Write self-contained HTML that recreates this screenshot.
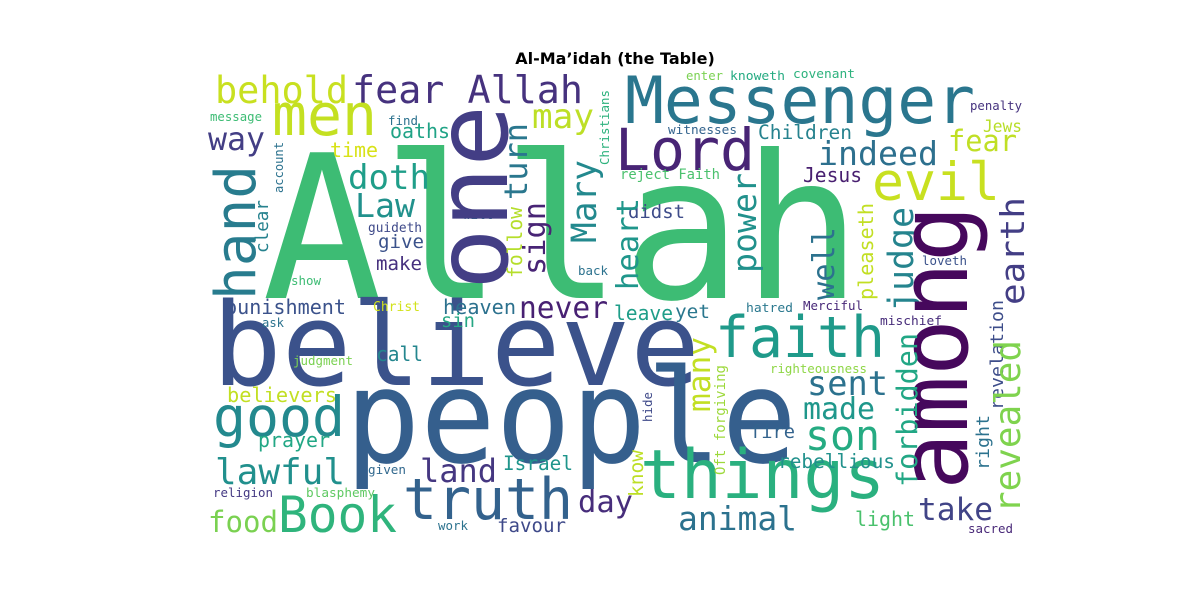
<!DOCTYPE html>
<html><head><meta charset="utf-8"><style>
html,body{margin:0;padding:0;background:#fff;}
svg{display:block;}
text{font-family:"DejaVu Sans Mono","Liberation Mono",monospace;}
</style></head><body>
<svg width="1200" height="600" viewBox="0 0 1200 600">
<rect width="1200" height="600" fill="#fff"/>
<text x="615" y="64" text-anchor="middle" style="font-family:'DejaVu Sans','Liberation Sans',sans-serif;font-weight:bold;font-size:16px" fill="#000">Al-Ma’idah (the Table)</text>
<g lengthAdjust="spacingAndGlyphs">
<text x="262" y="298" font-size="200" textLength="600" lengthAdjust="spacingAndGlyphs" fill="#3dbc74">Allah</text>
<text x="212" y="385" font-size="115" textLength="488" lengthAdjust="spacingAndGlyphs" fill="#3b528b">believe</text>
<text x="345" y="462" font-size="130" textLength="452" lengthAdjust="spacingAndGlyphs" fill="#355f8d">people</text>
<text x="215" y="103" font-size="37" textLength="133" lengthAdjust="spacingAndGlyphs" fill="#c8e020">behold</text>
<text x="352" y="103" font-size="38" textLength="231" lengthAdjust="spacingAndGlyphs" fill="#46327e">fear Allah</text>
<text x="272" y="135" font-size="58" textLength="105" lengthAdjust="spacingAndGlyphs" fill="#c4e021">men</text>
<text x="625" y="123" font-size="65" textLength="350" lengthAdjust="spacingAndGlyphs" fill="#2a768e">Messenger</text>
<text x="615" y="170" font-size="58" textLength="140" lengthAdjust="spacingAndGlyphs" fill="#482475">Lord</text>
<text x="532" y="128" font-size="34" textLength="62" lengthAdjust="spacingAndGlyphs" fill="#bddf26">may</text>
<text x="208" y="150" font-size="32" textLength="57" lengthAdjust="spacingAndGlyphs" fill="#433e85">way</text>
<text x="210" y="121" font-size="12.5" textLength="52" lengthAdjust="spacingAndGlyphs" fill="#3dbc74">message</text>
<text x="388" y="125" font-size="12.5" textLength="30" lengthAdjust="spacingAndGlyphs" fill="#2c728e">find</text>
<text x="390" y="138" font-size="20" textLength="60" lengthAdjust="spacingAndGlyphs" fill="#20a386">oaths</text>
<text x="330" y="157" font-size="20" textLength="48" lengthAdjust="spacingAndGlyphs" fill="#d8e219">time</text>
<text x="348" y="189" font-size="34" textLength="82" lengthAdjust="spacingAndGlyphs" fill="#1f9e89">doth</text>
<text x="355" y="217" font-size="33" textLength="60" lengthAdjust="spacingAndGlyphs" fill="#21918c">Law</text>
<text x="368" y="232" font-size="13" textLength="54" lengthAdjust="spacingAndGlyphs" fill="#3e4989">guideth</text>
<text x="378" y="248" font-size="19" textLength="46" lengthAdjust="spacingAndGlyphs" fill="#3b528b">give</text>
<text x="376" y="270" font-size="19" textLength="46" lengthAdjust="spacingAndGlyphs" fill="#46307e">make</text>
<text x="291" y="285" font-size="12" textLength="30" lengthAdjust="spacingAndGlyphs" fill="#3dbc74">show</text>
<text x="463" y="219" font-size="12.5" textLength="30" lengthAdjust="spacingAndGlyphs" fill="#2a788e">wilt</text>
<text x="225" y="314" font-size="20" textLength="121" lengthAdjust="spacingAndGlyphs" fill="#3b528b">punishment</text>
<text x="262" y="327" font-size="12" textLength="22" lengthAdjust="spacingAndGlyphs" fill="#2c728e">ask</text>
<text x="373" y="311" font-size="13" textLength="47" lengthAdjust="spacingAndGlyphs" fill="#d2e21b">Christ</text>
<text x="443" y="314" font-size="20" textLength="73" lengthAdjust="spacingAndGlyphs" fill="#2c718e">heaven</text>
<text x="441" y="327" font-size="19" textLength="34" lengthAdjust="spacingAndGlyphs" fill="#26a784">sin</text>
<text x="519" y="318" font-size="30" textLength="89" lengthAdjust="spacingAndGlyphs" fill="#482173">never</text>
<text x="376" y="361" font-size="20" textLength="47" lengthAdjust="spacingAndGlyphs" fill="#24868e">call</text>
<text x="293" y="365" font-size="12.5" textLength="60" lengthAdjust="spacingAndGlyphs" fill="#7ad151">judgment</text>
<text x="227" y="402" font-size="20" textLength="110" lengthAdjust="spacingAndGlyphs" fill="#c2df23">believers</text>
<text x="213" y="436" font-size="55" textLength="132" lengthAdjust="spacingAndGlyphs" fill="#23898e">good</text>
<text x="258" y="447" font-size="20" textLength="72" lengthAdjust="spacingAndGlyphs" fill="#22a785">prayer</text>
<text x="215" y="484" font-size="36" textLength="130" lengthAdjust="spacingAndGlyphs" fill="#21908d">lawful</text>
<text x="420" y="482" font-size="32" textLength="77" lengthAdjust="spacingAndGlyphs" fill="#453781">land</text>
<text x="503" y="470" font-size="19.5" textLength="70" lengthAdjust="spacingAndGlyphs" fill="#1f958b">Israel</text>
<text x="368" y="474" font-size="12.5" textLength="38" lengthAdjust="spacingAndGlyphs" fill="#31688e">given</text>
<text x="213" y="497" font-size="12.5" textLength="60" lengthAdjust="spacingAndGlyphs" fill="#443983">religion</text>
<text x="306" y="497" font-size="12.5" textLength="69" lengthAdjust="spacingAndGlyphs" fill="#5ec962">blasphemy</text>
<text x="208" y="532" font-size="29" textLength="70" lengthAdjust="spacingAndGlyphs" fill="#7ad151">food</text>
<text x="278" y="532" font-size="50" textLength="119" lengthAdjust="spacingAndGlyphs" fill="#2fb47c">Book</text>
<text x="403" y="519" font-size="57" textLength="170" lengthAdjust="spacingAndGlyphs" fill="#33628d">truth</text>
<text x="438" y="530" font-size="12.5" textLength="30" lengthAdjust="spacingAndGlyphs" fill="#2c728e">work</text>
<text x="497" y="532" font-size="19" textLength="69" lengthAdjust="spacingAndGlyphs" fill="#3e4989">favour</text>
<text x="578" y="512" font-size="30" textLength="55" lengthAdjust="spacingAndGlyphs" fill="#472d7b">day</text>
<text x="640" y="498" font-size="68" textLength="245" lengthAdjust="spacingAndGlyphs" fill="#2ab07f">things</text>
<text x="678" y="530" font-size="33" textLength="119" lengthAdjust="spacingAndGlyphs" fill="#2c728e">animal</text>
<text x="855" y="526" font-size="20" textLength="60" lengthAdjust="spacingAndGlyphs" fill="#4ac16d">light</text>
<text x="918" y="520" font-size="31" textLength="75" lengthAdjust="spacingAndGlyphs" fill="#414487">take</text>
<text x="968" y="533" font-size="12.5" textLength="45" lengthAdjust="spacingAndGlyphs" fill="#482878">sacred</text>
<text x="778" y="468" font-size="19.5" textLength="117" lengthAdjust="spacingAndGlyphs" fill="#21918c">rebellious</text>
<text x="750" y="438" font-size="19" textLength="45" lengthAdjust="spacingAndGlyphs" fill="#33638d">fire</text>
<text x="803" y="419" font-size="30" textLength="72" lengthAdjust="spacingAndGlyphs" fill="#1f978b">made</text>
<text x="805" y="450" font-size="42" textLength="75" lengthAdjust="spacingAndGlyphs" fill="#25ab82">son</text>
<text x="807" y="395" font-size="34" textLength="81" lengthAdjust="spacingAndGlyphs" fill="#2c728e">sent</text>
<text x="715" y="357" font-size="57" textLength="170" lengthAdjust="spacingAndGlyphs" fill="#1f9a8a">faith</text>
<text x="770" y="373" font-size="12.5" textLength="97" lengthAdjust="spacingAndGlyphs" fill="#8ed645">righteousness</text>
<text x="614" y="320" font-size="20" textLength="59" lengthAdjust="spacingAndGlyphs" fill="#1f9e89">leave</text>
<text x="675" y="318" font-size="19" textLength="35" lengthAdjust="spacingAndGlyphs" fill="#2a778e">yet</text>
<text x="746" y="312" font-size="12.5" textLength="47" lengthAdjust="spacingAndGlyphs" fill="#2a788e">hatred</text>
<text x="803" y="310" font-size="12.5" textLength="60" lengthAdjust="spacingAndGlyphs" fill="#482878">Merciful</text>
<text x="880" y="325" font-size="12.5" textLength="62" lengthAdjust="spacingAndGlyphs" fill="#472c7a">mischief</text>
<text x="803" y="182" font-size="20" textLength="59" lengthAdjust="spacingAndGlyphs" fill="#481f70">Jesus</text>
<text x="818" y="165" font-size="33" textLength="120" lengthAdjust="spacingAndGlyphs" fill="#2d708e">indeed</text>
<text x="758" y="139" font-size="19.6" textLength="94" lengthAdjust="spacingAndGlyphs" fill="#26828e">Children</text>
<text x="668" y="134" font-size="12.5" textLength="69" lengthAdjust="spacingAndGlyphs" fill="#33638d">witnesses</text>
<text x="686" y="80" font-size="12" textLength="37" lengthAdjust="spacingAndGlyphs" fill="#7ad151">enter</text>
<text x="730" y="80" font-size="12.5" textLength="55" lengthAdjust="spacingAndGlyphs" fill="#25ab82">knoweth</text>
<text x="793" y="78" font-size="12.5" textLength="62" lengthAdjust="spacingAndGlyphs" fill="#2db27d">covenant</text>
<text x="970" y="110" font-size="12.5" textLength="52" lengthAdjust="spacingAndGlyphs" fill="#46337f">penalty</text>
<text x="983" y="132" font-size="16.5" textLength="39" lengthAdjust="spacingAndGlyphs" fill="#b8de29">Jews</text>
<text x="948" y="151" font-size="29" textLength="69" lengthAdjust="spacingAndGlyphs" fill="#c0df25">fear</text>
<text x="872" y="200" font-size="53" textLength="128" lengthAdjust="spacingAndGlyphs" fill="#c8e020">evil</text>
<text x="620" y="179" font-size="14" textLength="100" lengthAdjust="spacingAndGlyphs" fill="#4ac16d">reject Faith</text>
<text x="628" y="218" font-size="19" textLength="57" lengthAdjust="spacingAndGlyphs" fill="#3e4c8a">didst</text>
<text x="922" y="265" font-size="12.5" textLength="45" lengthAdjust="spacingAndGlyphs" fill="#3b528b">loveth</text>
<text x="578" y="275" font-size="12" textLength="30" lengthAdjust="spacingAndGlyphs" fill="#2c728e">back</text>

<text transform="translate(507,290) rotate(-90)" font-size="100" textLength="185" lengthAdjust="spacingAndGlyphs" fill="#433e85">one</text>
<text transform="translate(255,300) rotate(-90)" font-size="56" textLength="135" lengthAdjust="spacingAndGlyphs" fill="#287c8e">hand</text>
<text transform="translate(283,193) rotate(-90)" font-size="12.5" textLength="51" lengthAdjust="spacingAndGlyphs" fill="#2c728e">account</text>
<text transform="translate(268,253) rotate(-90)" font-size="17.6" textLength="53" lengthAdjust="spacingAndGlyphs" fill="#26828e">clear</text>
<text transform="translate(527,200) rotate(-90)" font-size="32" textLength="77" lengthAdjust="spacingAndGlyphs" fill="#2a778e">turn</text>
<text transform="translate(545,275) rotate(-90)" font-size="30" textLength="73" lengthAdjust="spacingAndGlyphs" fill="#482475">sign</text>
<text transform="translate(522,278) rotate(-90)" font-size="20" textLength="71" lengthAdjust="spacingAndGlyphs" fill="#b5de2b">follow</text>
<text transform="translate(596,243) rotate(-90)" font-size="35" textLength="83" lengthAdjust="spacingAndGlyphs" fill="#23898e">Mary</text>
<text transform="translate(609,165) rotate(-90)" font-size="12.5" textLength="75" lengthAdjust="spacingAndGlyphs" fill="#2db27d">Christians</text>
<text transform="translate(638,290) rotate(-90)" font-size="30" textLength="92" lengthAdjust="spacingAndGlyphs" fill="#1f968b">heart</text>
<text transform="translate(756,273) rotate(-90)" font-size="33" textLength="100" lengthAdjust="spacingAndGlyphs" fill="#21918c">power</text>
<text transform="translate(834,300) rotate(-90)" font-size="30" textLength="73" lengthAdjust="spacingAndGlyphs" fill="#2c728e">well</text>
<text transform="translate(873,300) rotate(-90)" font-size="20" textLength="97" lengthAdjust="spacingAndGlyphs" fill="#c2df23">pleaseth</text>
<text transform="translate(913,312) rotate(-90)" font-size="35" textLength="105" lengthAdjust="spacingAndGlyphs" fill="#25848e">judge</text>
<text transform="translate(967,490) rotate(-90)" font-size="95" textLength="285" lengthAdjust="spacingAndGlyphs" fill="#46085c">among</text>
<text transform="translate(1024,305) rotate(-90)" font-size="33" textLength="108" lengthAdjust="spacingAndGlyphs" fill="#433e85">earth</text>
<text transform="translate(1003,410) rotate(-90)" font-size="18" textLength="110" lengthAdjust="spacingAndGlyphs" fill="#3d4d8a">revelation</text>
<text transform="translate(1020,513) rotate(-90)" font-size="36" textLength="173" lengthAdjust="spacingAndGlyphs" fill="#7fd34e">revealed</text>
<text transform="translate(989,470) rotate(-90)" font-size="18" textLength="55" lengthAdjust="spacingAndGlyphs" fill="#2c728e">right</text>
<text transform="translate(917,487) rotate(-90)" font-size="28.5" textLength="154" lengthAdjust="spacingAndGlyphs" fill="#22a785">forbidden</text>
<text transform="translate(710,412) rotate(-90)" font-size="31" textLength="75" lengthAdjust="spacingAndGlyphs" fill="#c2df23">many</text>
<text transform="translate(725,475) rotate(-90)" font-size="14" textLength="110" lengthAdjust="spacingAndGlyphs" fill="#9dd93b">Oft forgiving</text>
<text transform="translate(652,422) rotate(-90)" font-size="12.5" textLength="30" lengthAdjust="spacingAndGlyphs" fill="#3e4989">hide</text>
<text transform="translate(643,497) rotate(-90)" font-size="19.6" textLength="47" lengthAdjust="spacingAndGlyphs" fill="#bddf26">know</text>
</g>
</svg>
</body></html>
